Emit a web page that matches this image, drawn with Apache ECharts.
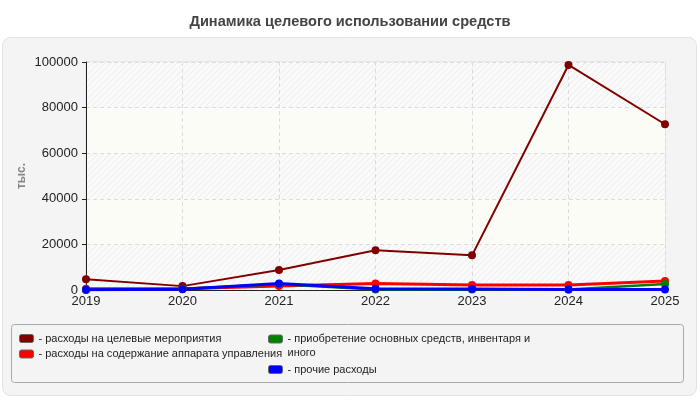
<!DOCTYPE html>
<html>
<head>
<meta charset="utf-8">
<script src="https://cdn.jsdelivr.net/npm/echarts@6/dist/echarts.min.js"></script>
<style>
  html, body { margin: 0; padding: 0; background: #fff; }
  #chart { width: 700px; height: 400px; }
</style>
</head>
<body>
<div id="chart"></div>
<script>
// годы
var years = ['2019', '2020', '2021', '2022', '2023', '2024', '2025'];
// названия рядов
var names = [
    'расходы на целевые мероприятия',
    'расходы на содержание аппарата управления',
    'приобретение основных средств, инвентаря и иного',
    'прочие расходы'
];
var colors = ['#800000', '#ff0000', '#008000', '#0000ff'];
// значения, тыс.
var celevye = [4700, 1700, 8800, 17400, 15200, 98700, 72700];
var apparat = [600, 600, 1700, 2800, 2200, 2200, 4000];
var osnovnye = [0, 600, 2500, 200, 200, 200, 2600];
var prochie = [100, 300, 2900, 600, 400, 200, 200];
var yTicks = [0, 20000, 40000, 60000, 80000, 100000];

// штриховка для полос фона
function makeHatch() {
    var c = document.createElement('canvas');
    c.width = 6; c.height = 6;
    var ctx = c.getContext('2d');
    ctx.fillStyle = '#fafafa';
    ctx.fillRect(0, 0, 6, 6);
    ctx.strokeStyle = '#ececec';
    ctx.lineWidth = 1;
    ctx.beginPath();
    ctx.moveTo(0, 6); ctx.lineTo(6, 0);
    ctx.moveTo(-3, 3); ctx.lineTo(3, -3);
    ctx.moveTo(3, 9); ctx.lineTo(9, 3);
    ctx.stroke();
    return c;
}

var chart = echarts.init(document.getElementById('chart'));

function mkSeries(i, data, width) {
    return {
        name: names[i],
        type: 'line',
        data: data,
        symbol: 'circle',
        symbolSize: 8,
        color: colors[i],
        lineStyle: { width: width, color: colors[i] },
        itemStyle: { color: colors[i] },
        animation: false
    };
}

var legendText = { fontFamily: 'Liberation Sans', fontSize: 11, color: '#222', lineHeight: 14 };
var legendBase = {
    orient: 'vertical',
    icon: 'roundRect',
    itemWidth: 14,
    itemHeight: 8,
    itemGap: 1.5,
    padding: 0,
    formatter: '- {name}',
    textStyle: legendText,
    itemStyle: { borderColor: '#666', borderWidth: 1 }
};

var option = {
    backgroundColor: '#fff',
    title: {
        text: 'Динамика целевого использовании средств',
        left: 'center',
        top: 9,
        textStyle: { fontFamily: 'Liberation Sans', fontSize: 14.6, fontWeight: 'bold', color: '#444' }
    },
    graphic: [
        {
            type: 'rect', z: -10,
            shape: { x: 2.5, y: 37.5, width: 694, height: 358, r: 8 },
            style: { fill: '#f4f4f4', stroke: '#e2e2e2', lineWidth: 1 }
        },
        {
            type: 'rect', z: -9,
            shape: { x: 11.5, y: 324.5, width: 672, height: 58, r: 3 },
            style: { fill: '#f4f4f4', stroke: '#a8a8a8', lineWidth: 1 }
        }
    ],
    grid: {
        left: 86, right: 35, top: 62, bottom: 110,
        show: true,
        borderColor: '#dddddd',
        borderWidth: 1,
        backgroundColor: '#fafafa'
    },
    legend: [
        Object.assign({}, legendBase, { left: 19, top: 331.5, data: [names[0], names[1]] }),
        // пустая первая строка, чтобы значок стоял напротив первой строки текста
        Object.assign({}, legendBase, {
            left: 268, top: 318,
            data: [names[2]],
            formatter: function () { return '\n- приобретение основных средств, инвентаря и\nиного'; }
        }),
        Object.assign({}, legendBase, { left: 268, top: 362.5, data: [names[3]] })
    ],
    xAxis: {
        type: 'category',
        data: years,
        boundaryGap: false,
        axisLine: { lineStyle: { color: '#222', width: 1 } },
        axisTick: { show: false },
        axisLabel: { fontFamily: 'Liberation Sans', fontSize: 13, color: '#222', margin: 5 },
        splitLine: { show: true, lineStyle: { color: '#dcdcdc', type: [4, 3] } }
    },
    yAxis: {
        type: 'value',
        min: yTicks[0],
        max: yTicks[yTicks.length - 1],
        interval: yTicks[1] - yTicks[0],
        name: 'тыс.',
        nameLocation: 'middle',
        nameGap: 58,
        nameMoveOverlap: false,
        nameTextStyle: { fontFamily: 'Liberation Sans', fontSize: 12, fontWeight: 'bold', color: '#888' },
        axisLine: { show: true, lineStyle: { color: '#222', width: 1 } },
        axisTick: { show: true, length: 4, lineStyle: { color: '#222' } },
        axisLabel: {
            fontFamily: 'Liberation Sans', fontSize: 13, color: '#222', margin: 8,
            formatter: function (v) { return String(v); }
        },
        splitLine: { show: true, lineStyle: { color: '#dcdcdc', type: [4, 3] } },
        splitArea: {
            show: true,
            areaStyle: { color: [{ image: makeHatch(), repeat: 'repeat' }, '#fcfcf6'] }
        }
    },
    series: [
        mkSeries(0, celevye, 2),
        mkSeries(1, apparat, 3),
        mkSeries(2, osnovnye, 2.5),
        mkSeries(3, prochie, 3)
    ]
};

chart.setOption(option);
</script>
</body>
</html>
